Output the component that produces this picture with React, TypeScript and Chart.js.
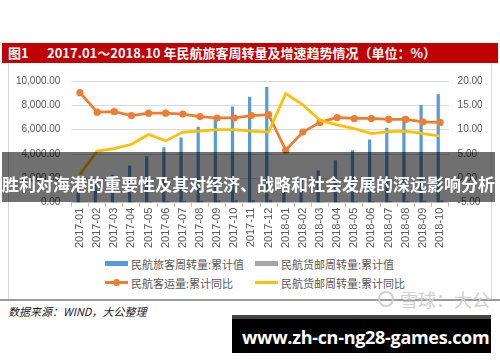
import React, { useEffect, useRef } from "react";
import { Chart, registerables } from "chart.js";

Chart.register(...registerables);

const categories = [
  "2017-01", "2017-02", "2017-03", "2017-04", "2017-05", "2017-06", "2017-07", "2017-08",
  "2017-09", "2017-10", "2017-11", "2017-12", "2018-01", "2018-02", "2018-03", "2018-04",
  "2018-05", "2018-06", "2018-07", "2018-08", "2018-09", "2018-10",
];
const passengerTurnover = [850, 1650, 2300, 3050, 3820, 4560, 5360, 6250, 6950, 7900, 8700, 9510, 950, 1850, 2640, 3480, 4310, 5200, 6150, 7090, 8030, 8920];
const cargoTurnover = [18, 33, 53, 72, 92, 112, 133, 153, 174, 197, 221, 243, 20, 36, 56, 76, 97, 118, 140, 161, 183, 206];
const passengerVolumeYoY = [17.6, 13.6, 13.7, 12.9, 13.4, 13.4, 13.2, 12.7, 12.4, 12.4, 12.9, 13.1, 5.8, 9.5, 11.5, 12.5, 12.3, 12.3, 12.1, 12.1, 11.6, 11.5];
const cargoTurnoverYoY = [0.8, 5.6, 6.1, 7.0, 9.0, 7.7, 9.5, 9.7, 10.0, 10.0, 9.7, 9.5, 17.4, 15.1, 11.9, 11.0, 10.2, 9.2, 9.6, 9.7, 9.2, 8.7];

const seriesNames = ["民航旅客周转量:累计值", "民航货邮周转量:累计值", "民航客运量:累计同比", "民航货邮周转量:累计同比"];
const titleLabel = "图1";
const titleText = "2017.01～2018.10 年民航旅客周转量及增速趋势情况（单位：%）";
const sourceText = "数据来源：WIND，大公整理";
const bannerText = "胜利对海港的重要性及其对经济、战略和社会发展的深远影响分析";
const urlText = "www.zh-cn-ng28-games.com";
const watermarkText = "雪球：大公";

const BLUE = "#5B9BD5";
const GRAY = "#A5A5A5";
const ORANGE = "#ED7D31";
const YELLOW = "#FFC000";
const TICK = "#595959";

const fmt2 = (v: number) =>
  Number(v).toLocaleString("en-US", { minimumFractionDigits: 2, maximumFractionDigits: 2 });

function ChartCanvas() {
  const ref = useRef<HTMLCanvasElement | null>(null);
  useEffect(() => {
    if (!ref.current) return;
    const chart = new Chart(ref.current, {
      data: {
        labels: categories,
        datasets: [
          {
            type: "line",
            label: seriesNames[3],
            data: cargoTurnoverYoY,
            yAxisID: "y1",
            borderColor: YELLOW,
            backgroundColor: YELLOW,
            borderWidth: 2.75,
            pointRadius: 0,
            tension: 0,
            order: 0,
          },
          {
            type: "line",
            label: seriesNames[2],
            data: passengerVolumeYoY,
            yAxisID: "y1",
            borderColor: ORANGE,
            backgroundColor: ORANGE,
            borderWidth: 2.75,
            pointRadius: 3.6,
            pointBorderWidth: 0,
            pointBackgroundColor: ORANGE,
            tension: 0,
            order: 1,
          },
          {
            type: "bar",
            label: seriesNames[0],
            data: passengerTurnover,
            yAxisID: "y",
            backgroundColor: BLUE,
            barPercentage: 0.9,
            categoryPercentage: 0.42,
            order: 2,
          },
          {
            type: "bar",
            label: seriesNames[1],
            data: cargoTurnover,
            yAxisID: "y",
            backgroundColor: GRAY,
            barPercentage: 0.9,
            categoryPercentage: 0.42,
            order: 3,
          },
        ],
      } as any,
      options: {
        animation: false,
        responsive: false,
        maintainAspectRatio: false,
        layout: { padding: { top: 15, left: 0, right: 0, bottom: 0 } },
        plugins: { legend: { display: false }, tooltip: { enabled: false }, title: { display: false } },
        scales: {
          x: {
            offset: true,
            grid: {
              display: true,
              drawOnChartArea: false,
              drawTicks: true,
              tickLength: 4,
              color: "#bfbfbf",
              offset: true,
            },
            border: { display: true, color: "#bfbfbf" },
            ticks: {
              minRotation: 90,
              maxRotation: 90,
              autoSkip: false,
              padding: 1,
              color: TICK,
              font: { family: "'Liberation Sans', Arial, sans-serif", size: 11 },
            },
            afterFit: (s: any) => {
              s.height = 51.3;
            },
          },
          y: {
            position: "left",
            min: 0,
            max: 10000,
            grid: { display: false, drawTicks: false },
            border: { display: false },
            ticks: {
              stepSize: 1000,
              padding: 11,
              color: TICK,
              font: { family: "'Liberation Sans', Arial, sans-serif", size: 10 },
              callback: (v: any) => fmt2(v),
            },
            afterFit: (s: any) => {
              s.width = 63.4;
            },
          },
          y1: {
            position: "right",
            min: -5,
            max: 20,
            grid: { display: true, drawTicks: false, color: "#d9d9d9", lineWidth: 1 },
            border: { display: false },
            ticks: {
              stepSize: 5,
              padding: 9,
              color: TICK,
              font: { family: "'Liberation Sans', Arial, sans-serif", size: 10 },
              callback: (v: any) => fmt2(v),
            },
            afterFit: (s: any) => {
              s.width = 43.4;
            },
          },
        },
      } as any,
    });
    return () => chart.destroy();
  }, []);
  return (
    <canvas
      ref={ref}
      width={484}
      height={190}
      style={{ position: "absolute", left: 8, top: 64, width: 484, height: 190 }}
    />
  );
}

function LegendItem({ x, y, kind, color, label }: { x: number; y: number; kind: string; color: string; label: string }) {
  return (
    <div style={{ position: "absolute", left: x, top: y - 8, height: 16, display: "flex", alignItems: "center" }}>
      <div style={{ position: "relative", width: 23, height: 16 }}>
        {kind === "bar" ? (
          <div style={{ position: "absolute", left: 0, top: 5.6, width: 23, height: 4.8, background: color }} />
        ) : (
          <div style={{ position: "absolute", left: 0, top: 6.6, width: 23, height: 2.8, background: color }} />
        )}
        {kind === "marker" ? (
          <div style={{ position: "absolute", left: 8, top: 4.5, width: 7, height: 7, borderRadius: "50%", background: color }} />
        ) : null}
      </div>
      <span
        style={{
          marginLeft: 3,
          fontFamily: "'Noto Sans CJK SC', sans-serif",
          fontSize: 11,
          color: TICK,
          whiteSpace: "nowrap",
          lineHeight: "16px",
        }}
      >
        {label}
      </span>
    </div>
  );
}

export default function App() {
  return (
    <div
      style={{
        position: "fixed",
        left: 0,
        top: 0,
        width: 500,
        height: 362,
        background: "#ffffff",
        overflow: "hidden",
      }}
    >
      {/* title bar */}
      <div style={{ position: "absolute", left: 2, top: 43, width: 496, height: 19.5, background: "#C00000" }} />
      <span
        style={{
          position: "absolute",
          left: 8,
          top: 43,
          height: 19.5,
          lineHeight: "19.5px",
          color: "#fff",
          fontWeight: "bold",
          fontSize: 13,
          fontFamily: "'Noto Sans CJK SC', sans-serif",
          whiteSpace: "nowrap",
        }}
      >
        {titleLabel}
      </span>
      <span
        style={{
          position: "absolute",
          left: 47,
          top: 43,
          height: 19.5,
          lineHeight: "19.5px",
          color: "#fff",
          fontWeight: "bold",
          fontSize: 13,
          fontFamily: "'Noto Sans CJK SC', sans-serif",
          whiteSpace: "nowrap",
        }}
      >
        {titleText}
      </span>

      {/* chart frame */}
      <div
        style={{
          position: "absolute",
          left: 8,
          top: 63,
          width: 484,
          height: 236,
          borderLeft: "1px solid #d9d9d9",
          borderRight: "1px solid #d9d9d9",
          boxSizing: "border-box",
        }}
      />
      <ChartCanvas />

      {/* legend */}
      <LegendItem x={105} y={263.5} kind="bar" color={BLUE} label={seriesNames[0]} />
      <LegendItem x={255} y={263.5} kind="bar" color={GRAY} label={seriesNames[1]} />
      <LegendItem x={105} y={282.7} kind="marker" color={ORANGE} label={seriesNames[2]} />
      <LegendItem x={255} y={282.7} kind="line" color={YELLOW} label={seriesNames[3]} />

      {/* bottom rule */}
      <div style={{ position: "absolute", left: 0, top: 298.5, width: 500, height: 2.5, background: "#9a9a9a" }} />

      {/* watermark */}
      <div
        style={{
          position: "absolute",
          left: 378,
          top: 291,
          width: 16,
          height: 16,
          borderRadius: "50%",
          border: "2px solid #cfcfcf",
          boxSizing: "border-box",
        }}
      />
      <span
        style={{
          position: "absolute",
          left: 400,
          top: 288,
          fontSize: 18,
          lineHeight: "22px",
          color: "#cfcfcf",
          fontFamily: "'Noto Sans CJK SC', sans-serif",
          whiteSpace: "nowrap",
        }}
      >
        {watermarkText}
      </span>

      {/* source */}
      <span
        style={{
          position: "absolute",
          left: 8,
          top: 303,
          fontSize: 11,
          lineHeight: "16px",
          fontStyle: "italic",
          color: "#222",
          fontFamily: "'Noto Sans CJK SC', sans-serif",
          whiteSpace: "nowrap",
        }}
      >
        {sourceText}
      </span>

      {/* overlay banner */}
      <div
        style={{
          position: "absolute",
          left: 2,
          top: 152,
          width: 493,
          height: 50,
          background: "rgba(0,0,0,0.56)",
        }}
      />
      <span
        style={{
          position: "absolute",
          left: 2,
          top: 172,
          height: 24,
          lineHeight: "24px",
          fontSize: 17,
          fontWeight: "bold",
          color: "#fff",
          fontFamily: "'Noto Sans CJK SC', sans-serif",
          whiteSpace: "nowrap",
        }}
      >
        {bannerText}
      </span>

      {/* url box */}
      <div
        style={{
          position: "absolute",
          left: 232,
          top: 315,
          width: 259,
          height: 38,
          background: "#000",
          borderTop: "4px solid #444",
          boxSizing: "border-box",
        }}
      />
      <span
        style={{
          position: "absolute",
          left: 242,
          top: 326,
          height: 22,
          lineHeight: "22px",
          fontSize: 18,
          fontWeight: "bold",
          color: "#fff",
          fontFamily: "'Open Sans', sans-serif",
          whiteSpace: "nowrap",
          letterSpacing: -0.3,
        }}
      >
        {urlText}
      </span>
    </div>
  );
}
